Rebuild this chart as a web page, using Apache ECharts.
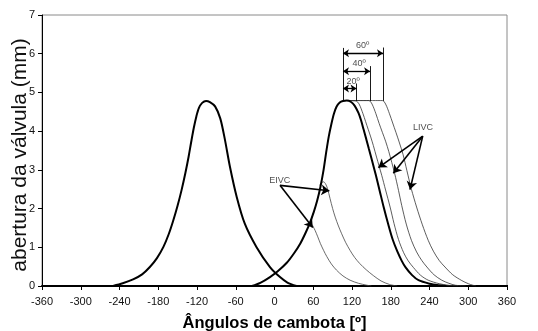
<!DOCTYPE html>
<html>
<head>
<meta charset="utf-8">
<script src="https://cdn.jsdelivr.net/npm/echarts@6/dist/echarts.min.js"></script>
<style>
  html, body { margin: 0; padding: 0; background: #fff; }
  #chart { width: 538px; height: 331px; }
</style>
</head>
<body>
<div id="chart"></div>
<script>
// Valve lift (mm) against crank angle (deg)
const exhaustLift = [
  [-250, 0], [-235, 0.07], [-219, 0.17], [-205, 0.3], [-193, 0.49], [-182, 0.72],
  [-172, 1.01], [-164, 1.33], [-157, 1.68], [-150, 2.08], [-144, 2.47], [-138, 2.92],
  [-133, 3.34], [-129, 3.72], [-125, 4.08], [-121, 4.38], [-117, 4.6], [-112, 4.73],
  [-106, 4.78], [-100, 4.75], [-92, 4.64], [-84, 4.33], [-77, 3.8], [-69, 3.08],
  [-58.5, 2.3], [-46, 1.61], [-28, 1.01], [-7, 0.49], [8.5, 0.23], [20, 0.09], [34, 0]
];
const intakeLift = [
  [-35, 0], [-22, 0.08], [-7, 0.23], [5, 0.38], [19, 0.6], [30, 0.84], [40, 1.1],
  [48, 1.37], [55, 1.64], [61, 1.92], [66, 2.2], [71, 2.55], [76, 3.0], [80, 3.45],
  [84, 3.86], [88, 4.18], [92, 4.45], [96, 4.63], [101, 4.74], [106, 4.78], [112, 4.79],
  [118, 4.76], [124, 4.66], [130, 4.47], [134, 4.28], [138, 4.04], [142, 3.8], [146, 3.55],
  [151, 3.24], [157, 2.86], [163, 2.45], [169, 2.04], [176, 1.6], [183, 1.2], [190, 0.9],
  [197, 0.65], [203, 0.48], [213, 0.28], [223, 0.15], [240, 0.06], [254, 0.02], [266, 0]
];
// late intake valve closing, dwell of 20, 40 and 60 degrees
const livc20 = [
  [112, 4.79], [126, 4.78], [131, 4.7], [137, 4.45], [141, 4.25], [145, 4.05], [149, 3.85],
  [153, 3.63], [158, 3.33], [166, 2.86], [172, 2.48], [179, 2.04], [185, 1.62], [192, 1.2],
  [200, 0.86], [207, 0.65], [215, 0.48], [226, 0.28], [238, 0.15], [255, 0.06], [269, 0.02], [284, 0]
];
const livc40 = [
  [112, 4.79], [146, 4.79], [151, 4.7], [157, 4.45], [162, 4.2], [167, 3.97], [172, 3.74],
  [177, 3.47], [186, 2.91], [192, 2.47], [197, 2.08], [204, 1.6], [212, 1.18], [220, 0.88],
  [228, 0.66], [236, 0.49], [247, 0.29], [259, 0.15], [270, 0.07], [280, 0.02], [296, 0]
];
const livc60 = [
  [112, 4.79], [167, 4.79], [172, 4.7], [178, 4.45], [183, 4.21], [188, 3.97], [193, 3.72],
  [199, 3.4], [205, 2.98], [212, 2.5], [220, 2.04], [229, 1.58], [238, 1.18], [246, 0.9],
  [255, 0.66], [264, 0.49], [276, 0.29], [290, 0.14], [300, 0.06], [307, 0.02], [312, 0]
];
// early intake valve closing
const eivcHigh = [
  [70, 2.6], [73, 2.67], [76, 2.69], [79, 2.64], [82, 2.52], [86, 2.26], [90, 2.0],
  [94, 1.78], [99, 1.55], [104, 1.35], [110, 1.13], [117, 0.92], [124, 0.74], [132, 0.58],
  [142, 0.42], [153, 0.27], [165, 0.13], [178, 0.04], [190, 0]
];
const eivcLow = [
  [54, 1.59], [56, 1.61], [58, 1.59], [60, 1.53], [63, 1.43], [67, 1.27], [71, 1.1],
  [76, 0.92], [81, 0.76], [88, 0.57], [96, 0.41], [106, 0.26], [117, 0.15], [130, 0.07],
  [143, 0.02], [150, 0]
];
const baselineTail = [[360, 0], [420, 0]];

// annotation texts and their anchor points (deg, mm)
const noteTexts = ['20º', '40º', '60º', 'EIVC', 'LIVC'];
const noteAnchors = [[121.6, 5.28], [130.9, 5.75], [136.6, 6.21], [8.1, 2.73], [230, 4.1]];
// dwell brackets: vertical markers and arrow heights
const dwellStart = 106;
const dwellEnds = [127, 148, 168];
const dwellTops = [5.23, 5.68, 6.16];
const dwellArrowY = [5.1, 5.55, 6.01];
const dwellStartTop = 6.15;
const plateauLift = 4.78;
// pointer arrows
const eivcFrom = [8.5, 2.6];
const eivcTo = [[84.9, 2.46], [59.2, 1.51]];
const livcFrom = [229.5, 3.87];
const livcTo = [[160.8, 3.06], [184, 2.91], [209.8, 2.49]];

const yTitle = 'abertura da válvula (mm)';
const FONT = '"Liberation Sans", Arial, sans-serif';
const chart = echarts.init(document.getElementById('chart'), null, { renderer: 'canvas' });

function curve(data, width, color, z) {
  return {
    type: 'line', data: data, showSymbol: false, symbol: 'none',
    smooth: 0.3,
    lineStyle: { color: color, width: width }, z: z, silent: true
  };
}

const markLines = [];
markLines.push([{ coord: [dwellStart, plateauLift], symbol: 'none' }, { coord: [dwellStart, dwellStartTop], symbol: 'none' }]);
dwellEnds.forEach((e, i) => {
  markLines.push([{ coord: [e, plateauLift], symbol: 'none' }, { coord: [e, dwellTops[i]], symbol: 'none' }]);
  markLines.push([{ coord: [dwellStart, dwellArrowY[i]], symbol: 'arrow', symbolSize: 6,
                    lineStyle: { width: 1.3 } },
                  { coord: [e, dwellArrowY[i]], symbol: 'arrow', symbolSize: 6 }]);
});
eivcTo.forEach(t => {
  markLines.push([{ coord: eivcFrom, symbol: 'none', lineStyle: { width: 1.6 } }, { coord: t, symbol: 'arrow', symbolSize: 8 }]);
});
livcTo.forEach(t => {
  markLines.push([{ coord: livcFrom, symbol: 'none', lineStyle: { width: 1.6 } }, { coord: t, symbol: 'arrow', symbolSize: 8 }]);
});

const option = {
  animation: false,
  textStyle: { fontFamily: FONT },
  grid: {
    left: 42, top: 15, right: 31, bottom: 45,
    outerBoundsMode: 'none', containLabel: false,
    show: true, borderColor: '#8a8a8a', borderWidth: 1
  },
  // rotated y-axis title
  graphic: [{
    type: 'text', x: 20, y: 155, rotation: Math.PI / 2, silent: true,
    style: {
      text: yTitle, fontFamily: FONT, fontSize: 21, fill: '#111',
      align: 'center', verticalAlign: 'middle'
    }
  }],
  xAxis: {
    type: 'value', min: -360, max: 360, interval: 60,
    name: 'Ângulos de cambota [º]', nameLocation: 'middle', nameGap: 29,
    nameTextStyle: { fontFamily: FONT, fontWeight: 'bold', fontSize: 16.5, color: '#000' },
    axisLine: { onZero: false, lineStyle: { color: '#000', width: 2 } },
    axisTick: { show: true, length: 4, lineStyle: { color: '#000', width: 1 } },
    axisLabel: { fontFamily: FONT, fontSize: 11, color: '#111', margin: 10 },
    splitLine: { show: false }
  },
  yAxis: {
    type: 'value', min: 0, max: 7, interval: 1,
    axisLine: { show: true, onZero: false, lineStyle: { color: '#000', width: 1 } },
    axisTick: { show: true, length: 4, lineStyle: { color: '#000', width: 1 } },
    axisLabel: { fontFamily: FONT, fontSize: 11, color: '#111', margin: 7 },
    splitLine: { show: false }
  },
  series: [
    curve(eivcHigh, 0.8, '#444', 3),
    curve(eivcLow, 0.8, '#444', 3),
    curve(livc20, 0.8, '#333', 3),
    curve(livc40, 0.8, '#333', 3),
    curve(livc60, 0.8, '#333', 3),
    curve(exhaustLift, 2, '#000', 5),
    curve(intakeLift, 2, '#000', 5),
    {
      type: 'line', data: baselineTail, showSymbol: false, clip: false,
      lineStyle: { color: '#000', width: 2 }, z: 6, silent: true
    },
    {
      type: 'scatter', silent: true, z: 8,
      data: noteAnchors.map((p, i) => ({ value: p, name: noteTexts[i] })),
      symbolSize: 0,
      label: {
        show: true, position: 'inside', formatter: p => p.name,
        fontFamily: FONT, fontSize: 9, color: '#222'
      },
      markLine: {
        silent: true, animation: false,
        label: { show: false },
        lineStyle: { color: '#000', width: 0.9, type: 'solid' },
        data: markLines
      }
    }
  ]
};
chart.setOption(option);
</script>
</body>
</html>
